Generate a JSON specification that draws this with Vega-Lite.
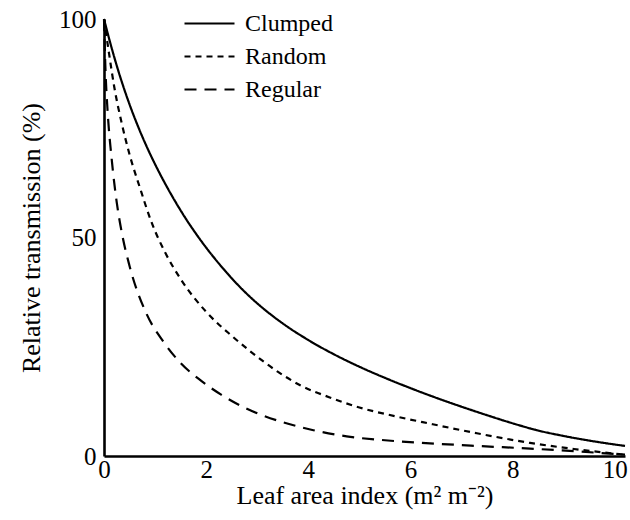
{
  "$schema": "https://vega.github.io/schema/vega-lite/v6.json",
  "autosize": {"type": "none"},
  "padding": {"left": 104, "top": 19, "right": 5, "bottom": 64},
  "width": 521,
  "height": 437,
  "background": "white",
  "config": {
    "view": {"stroke": null},
    "font": "Liberation Serif",
    "axis": {
      "domainColor": "black",
      "domainWidth": 2.6,
      "ticks": false,
      "grid": false,
      "labelFont": "Liberation Serif",
      "labelFontSize": 25,
      "labelColor": "black",
      "titleFont": "Liberation Serif",
      "titleFontSize": 26,
      "titleFontWeight": "normal",
      "titleColor": "black"
    },
    "legend": {
      "labelFont": "Liberation Serif",
      "labelFontSize": 24,
      "labelColor": "black"
    }
  },
  "data": {
    "values": [
      {"lai": 0, "trans": 100, "pattern": "Clumped"},
      {"lai": 0.1, "trans": 95.5, "pattern": "Clumped"},
      {"lai": 0.2, "trans": 91.3, "pattern": "Clumped"},
      {"lai": 0.3, "trans": 87.4, "pattern": "Clumped"},
      {"lai": 0.4, "trans": 83.8, "pattern": "Clumped"},
      {"lai": 0.5, "trans": 80.46, "pattern": "Clumped"},
      {"lai": 0.6, "trans": 77.36, "pattern": "Clumped"},
      {"lai": 0.7, "trans": 74.46, "pattern": "Clumped"},
      {"lai": 0.8, "trans": 71.74, "pattern": "Clumped"},
      {"lai": 0.9, "trans": 69.18, "pattern": "Clumped"},
      {"lai": 1.0, "trans": 66.76, "pattern": "Clumped"},
      {"lai": 1.2, "trans": 62.26, "pattern": "Clumped"},
      {"lai": 1.4, "trans": 58.14, "pattern": "Clumped"},
      {"lai": 1.6, "trans": 54.34, "pattern": "Clumped"},
      {"lai": 1.8, "trans": 50.88, "pattern": "Clumped"},
      {"lai": 2.0, "trans": 47.68, "pattern": "Clumped"},
      {"lai": 2.25, "trans": 44.03, "pattern": "Clumped"},
      {"lai": 2.5, "trans": 40.68, "pattern": "Clumped"},
      {"lai": 2.75, "trans": 37.63, "pattern": "Clumped"},
      {"lai": 3.0, "trans": 34.93, "pattern": "Clumped"},
      {"lai": 3.5, "trans": 30.33, "pattern": "Clumped"},
      {"lai": 4.0, "trans": 26.53, "pattern": "Clumped"},
      {"lai": 4.5, "trans": 23.28, "pattern": "Clumped"},
      {"lai": 5.0, "trans": 20.43, "pattern": "Clumped"},
      {"lai": 5.5, "trans": 17.88, "pattern": "Clumped"},
      {"lai": 6.0, "trans": 15.53, "pattern": "Clumped"},
      {"lai": 6.5, "trans": 13.33, "pattern": "Clumped"},
      {"lai": 7.0, "trans": 11.28, "pattern": "Clumped"},
      {"lai": 7.5, "trans": 9.33, "pattern": "Clumped"},
      {"lai": 8.0, "trans": 7.48, "pattern": "Clumped"},
      {"lai": 8.5, "trans": 5.83, "pattern": "Clumped"},
      {"lai": 9.0, "trans": 4.58, "pattern": "Clumped"},
      {"lai": 9.5, "trans": 3.53, "pattern": "Clumped"},
      {"lai": 10.0, "trans": 2.63, "pattern": "Clumped"},
      {"lai": 10.2, "trans": 2.31, "pattern": "Clumped"},

      {"lai": 0, "trans": 100, "pattern": "Random"},
      {"lai": 0.1, "trans": 92, "pattern": "Random"},
      {"lai": 0.2, "trans": 84.5, "pattern": "Random"},
      {"lai": 0.35, "trans": 76, "pattern": "Random"},
      {"lai": 0.5, "trans": 69, "pattern": "Random"},
      {"lai": 0.7, "trans": 61.5, "pattern": "Random"},
      {"lai": 0.93, "trans": 53.5, "pattern": "Random"},
      {"lai": 1.2, "trans": 46.5, "pattern": "Random"},
      {"lai": 1.5, "trans": 40.5, "pattern": "Random"},
      {"lai": 2.0, "trans": 33, "pattern": "Random"},
      {"lai": 2.5, "trans": 27.5, "pattern": "Random"},
      {"lai": 2.86, "trans": 24, "pattern": "Random"},
      {"lai": 3.4, "trans": 19.3, "pattern": "Random"},
      {"lai": 3.84, "trans": 16.2, "pattern": "Random"},
      {"lai": 4.42, "trans": 13.4, "pattern": "Random"},
      {"lai": 5.0, "trans": 11.1, "pattern": "Random"},
      {"lai": 5.7, "trans": 9.1, "pattern": "Random"},
      {"lai": 6.38, "trans": 7.4, "pattern": "Random"},
      {"lai": 7.3, "trans": 5.2, "pattern": "Random"},
      {"lai": 8.34, "trans": 3.0, "pattern": "Random"},
      {"lai": 9.2, "trans": 1.6, "pattern": "Random"},
      {"lai": 10.2, "trans": 0.3, "pattern": "Random"},

      {"lai": 0, "trans": 100, "pattern": "Regular"},
      {"lai": 0.03, "trans": 88, "pattern": "Regular"},
      {"lai": 0.07, "trans": 79, "pattern": "Regular"},
      {"lai": 0.15, "trans": 68, "pattern": "Regular"},
      {"lai": 0.25, "trans": 58, "pattern": "Regular"},
      {"lai": 0.35, "trans": 51, "pattern": "Regular"},
      {"lai": 0.5, "trans": 43.5, "pattern": "Regular"},
      {"lai": 0.83, "trans": 32.6, "pattern": "Regular"},
      {"lai": 1.16, "trans": 26.2, "pattern": "Regular"},
      {"lai": 1.49, "trans": 21.4, "pattern": "Regular"},
      {"lai": 1.88, "trans": 17.4, "pattern": "Regular"},
      {"lai": 2.3, "trans": 14, "pattern": "Regular"},
      {"lai": 2.66, "trans": 11.6, "pattern": "Regular"},
      {"lai": 3.1, "trans": 9.3, "pattern": "Regular"},
      {"lai": 3.57, "trans": 7.5, "pattern": "Regular"},
      {"lai": 4.1, "trans": 5.9, "pattern": "Regular"},
      {"lai": 4.75, "trans": 4.5, "pattern": "Regular"},
      {"lai": 5.5, "trans": 3.6, "pattern": "Regular"},
      {"lai": 6.38, "trans": 2.9, "pattern": "Regular"},
      {"lai": 7.3, "trans": 2.3, "pattern": "Regular"},
      {"lai": 8.34, "trans": 1.7, "pattern": "Regular"},
      {"lai": 9.2, "trans": 1.1, "pattern": "Regular"},
      {"lai": 10.2, "trans": 0.3, "pattern": "Regular"}
    ]
  },
  "mark": {"type": "line", "interpolate": "monotone", "color": "black", "strokeWidth": 2.2},
  "encoding": {
    "x": {
      "field": "lai",
      "type": "quantitative",
      "scale": {"domain": [0, 10.2], "nice": false, "zero": true},
      "axis": {
        "values": [0, 2, 4, 6, 8, 10],
        "labelPadding": 1,
        "labelFlush": false,
        "title": "Leaf area index (m² m⁻²)",
        "titlePadding": 0
      }
    },
    "y": {
      "field": "trans",
      "type": "quantitative",
      "scale": {"domain": [0, 100], "nice": false},
      "axis": {
        "values": [0, 50, 100],
        "labelPadding": 8,
        "labelFlush": false,
        "title": "Relative transmission (%)",
        "titlePadding": 14
      }
    },
    "strokeDash": {
      "field": "pattern",
      "type": "nominal",
      "scale": {
        "domain": ["Clumped", "Random", "Regular"],
        "range": [[1, 0], [6, 5], [12, 8]]
      },
      "legend": {
        "title": null,
        "orient": "none",
        "legendX": 79,
        "legendY": -12,
        "padding": 0,
        "symbolType": "stroke",
        "symbolSize": 2500,
        "symbolStrokeWidth": 2.2,
        "symbolStrokeColor": "black",
        "clipHeight": 33,
        "rowPadding": 0,
        "labelOffset": 9
      }
    }
  }
}
